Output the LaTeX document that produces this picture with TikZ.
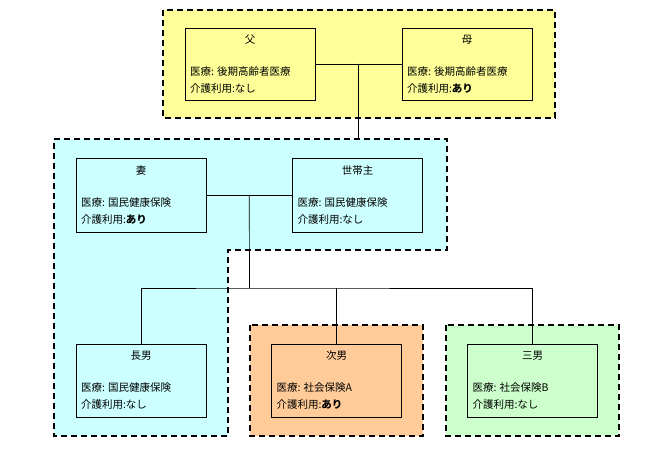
\documentclass[tikz,border=0pt]{standalone}
\usepackage{fontspec}
\setmainfont{Noto Sans CJK JP}
\usetikzlibrary{calc}

\definecolor{grpyellow}{RGB}{255,255,153}
\definecolor{grpblue}{RGB}{204,255,255}
\definecolor{grporange}{RGB}{255,204,153}
\definecolor{grpgreen}{RGB}{204,255,204}

% name on top, two lines below
\newcommand{\pinfo}[3]{\parbox{120pt}{\centering #1\\[15pt]\raggedright 医療: #2\\介護利用:#3}}

\begin{document}
\begin{tikzpicture}[
		x=1pt,y=-1pt,
		font=\fontsize{10.5}{17}\selectfont,
		grp/.style={draw,dashed,line width=1.3pt,dash pattern=on 6pt off 4pt},
		pbox/.style={draw,line width=0.6pt,minimum width=130pt,minimum height=73pt,inner sep=0pt},
		conn/.style={line width=0.7pt}
		]
		\useasboundingbox (0,0) rectangle (666,454);
		
		% groups
		\path[grp,fill=grpyellow] (163,10) rectangle (555,118);
		\path[grp,fill=grpblue] (54,139) -- (447,139) -- (447,250) -- (228,250) -- (228,436) -- (54,436) -- cycle;
		\path[grp,fill=grporange] (250,325) rectangle (423,436);
		\path[grp,fill=grpgreen] (446,325) rectangle (619,436);
		
		% persons
		\node[pbox,minimum height=72pt](father) at (250,64){\pinfo{父}{後期高齢者医療}{なし}};
		\node[pbox,minimum height=72pt](mother) at (467,64){\pinfo{母}{後期高齢者医療}{\textbf{あり}}};
		\node[pbox,minimum height=74pt](wife) at (141,195){\pinfo{妻}{国民健康保険}{\textbf{あり}}};
		\node[pbox,minimum height=74pt](head) at (357.5,195){\pinfo{世帯主}{国民健康保険}{なし}};
		\node[pbox](son1) at (141,380.5){\pinfo{長男}{国民健康保険}{なし}};
		\node[pbox](son2) at (336.5,380.5){\pinfo{次男}{社会保険A}{\textbf{あり}}};
		\node[pbox](son3) at (532.5,380.5){\pinfo{三男}{社会保険B}{なし}};
		
		% lines
		\coordinate (pj) at ($(father.east)!0.5!(mother.west)$);
		\coordinate (ptop) at (358.5,139);
		\coordinate (cj) at ($(wife.east)!0.5!(head.west)$);
		\coordinate (bus) at (249.5,288);
		\draw[conn] (father) -- (mother);
		\draw[conn] (pj) -- (ptop);
		\draw[conn] (wife) -- (head);
		\draw[conn] (cj) -- (bus);
		\draw[conn] (son1.north) |- (bus) -| (son3.north);
		\draw[conn] (son2.north) -- (son2.north |- bus);
		
		\end{tikzpicture}
\end{document}
